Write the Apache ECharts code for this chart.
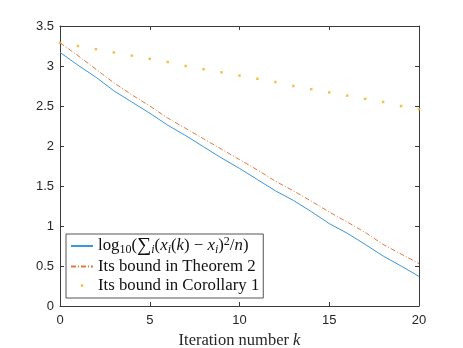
<!DOCTYPE html>
<html>
<head>
<meta charset="utf-8">
<script src="https://cdn.jsdelivr.net/npm/echarts@6/dist/echarts.min.js"></script>
<style>html,body{margin:0;padding:0;background:#fff}#c{width:463px;height:348px}</style>
</head>
<body>
<div id="c"></div>
<script>
var iterations = [0,1,2,3,4,5,6,7,8,9,10,11,12,13,14,15,16,17,18,19,20];
var actual = [3.17,3.01,2.86,2.69,2.55,2.41,2.26,2.13,1.99,1.85,1.72,1.58,1.44,1.32,1.18,1.03,0.91,0.77,0.625,0.50,0.37];
var theorem2 = [3.29,3.13,2.96,2.79,2.64,2.50,2.35,2.22,2.09,1.96,1.83,1.70,1.56,1.44,1.31,1.175,1.05,0.92,0.77,0.65,0.53];
var corollary1 = [3.29,3.25,3.21,3.17,3.13,3.09,3.05,3.00,2.96,2.92,2.88,2.84,2.80,2.75,2.71,2.67,2.63,2.59,2.55,2.50,2.46];
var xTicks = [0,5,10,15,20];
var yTicks = [0,0.5,1,1.5,2,2.5,3,3.5];

function pairs(ys){ return iterations.map(function(x,i){ return [x, ys[i]]; }); }

var axisColor = '#3a3a3a';
var chart = echarts.init(document.getElementById('c'), null, {renderer:'canvas'});
var xCommon = {type:'value', min:xTicks[0], max:xTicks[xTicks.length-1], interval:5,
  axisLine:{show:true, onZero:false, lineStyle:{color:axisColor, width:1}},
  axisTick:{show:true, inside:true, length:4, lineStyle:{color:axisColor}},
  splitLine:{show:false}};
var yCommon = {type:'value', min:yTicks[0], max:yTicks[yTicks.length-1], interval:0.5,
  axisLine:{show:true, onZero:false, lineStyle:{color:axisColor, width:1}},
  axisTick:{show:true, inside:true, length:4, lineStyle:{color:axisColor}},
  splitLine:{show:false}};
var serif = "'Liberation Serif','DejaVu Serif',serif";
var fs = 16.8;
var blue = '#3d96dc', orange = '#e2793f', yellow = '#EDB120';
chart.setOption({
  animation:false,
  backgroundColor:'#fff',
  grid:{left:60, right:44, top:26, bottom:42, containLabel:false, outerBoundsMode:'none'},
  xAxis:[
    Object.assign({}, xCommon, {position:'bottom',
      axisLabel:{show:true, margin:8, color:'#262626', fontSize:13, fontFamily:"'Liberation Sans',Arial,sans-serif"},
      name:'{r|Iteration number }{it|k}', nameLocation:'middle', nameGap:23,
      nameTextStyle:{rich:{r:{fontFamily:serif, fontSize:16.5, color:'#262626'}, it:{fontFamily:serif, fontStyle:'italic', fontSize:16.5, color:'#262626'}}}
    }),
    Object.assign({}, xCommon, {position:'top', axisLabel:{show:false}})
  ],
  yAxis:[
    Object.assign({}, yCommon, {position:'left',
      axisLabel:{show:true, margin:6, color:'#262626', fontSize:13, fontFamily:"'Liberation Sans',Arial,sans-serif"}}),
    Object.assign({}, yCommon, {position:'right', axisLabel:{show:false}})
  ],
  legend:{
    orient:'vertical', left:66, top:234,
    backgroundColor:'#fff', borderColor:'#555', borderWidth:1,
    padding:[2,4,4,4], itemGap:2, itemWidth:22, itemHeight:14,
    data:[
      {name:'s1', itemStyle:{opacity:0}},
      {name:'s2', itemStyle:{opacity:0}},
      {name:'s3', icon:'path://M0,0L0.01,0M22,14L22.01,14M9.8,5.8h2.4v2.4h-2.4Z'}
    ],
    formatter:function(n){
      if(n==='s1') return '{r|log}{sub|10}{r|(}{sum|∑}{subi|i}{r|(}{it|x}{subi|i}{r|(}{it|k}{r|) − }{it|x}{subi|i}{r|)}{sup|2}{r|/}{it|n}{r|)}';
      if(n==='s2') return '{r|Its bound in Theorem 2}';
      return '{r|Its bound in Corollary 1}';
    },
    textStyle:{
      color:'#111',
      rich:{
        r:{fontFamily:serif, fontSize:fs, lineHeight:20, color:'#111'},
        sum:{fontFamily:serif, fontSize:20, lineHeight:20, color:'#111'},
        it:{fontFamily:serif, fontSize:fs, fontStyle:'italic', lineHeight:20, color:'#111'},
        sub:{fontFamily:serif, fontSize:12, lineHeight:11, verticalAlign:'bottom', color:'#111'},
        subi:{fontFamily:serif, fontSize:12, fontStyle:'italic', lineHeight:11, verticalAlign:'bottom', color:'#111'},
        sup:{fontFamily:serif, fontSize:12, lineHeight:12, verticalAlign:'top', color:'#111'}
      }
    }
  },
  series:[
    {name:'s1', type:'line', data:pairs(actual), symbol:'none', showSymbol:false,
      lineStyle:{color:blue, width:1}, itemStyle:{color:blue}},
    {name:'s2', type:'line', data:pairs(theorem2), symbol:'none', showSymbol:false,
      lineStyle:{color:orange, width:1, type:[5,2,1,2]}, itemStyle:{color:orange}},
    {name:'s3', type:'scatter', data:pairs(corollary1), symbol:'rect', symbolSize:2.5,
      itemStyle:{color:yellow}}
  ]
});
</script>
</body>
</html>
